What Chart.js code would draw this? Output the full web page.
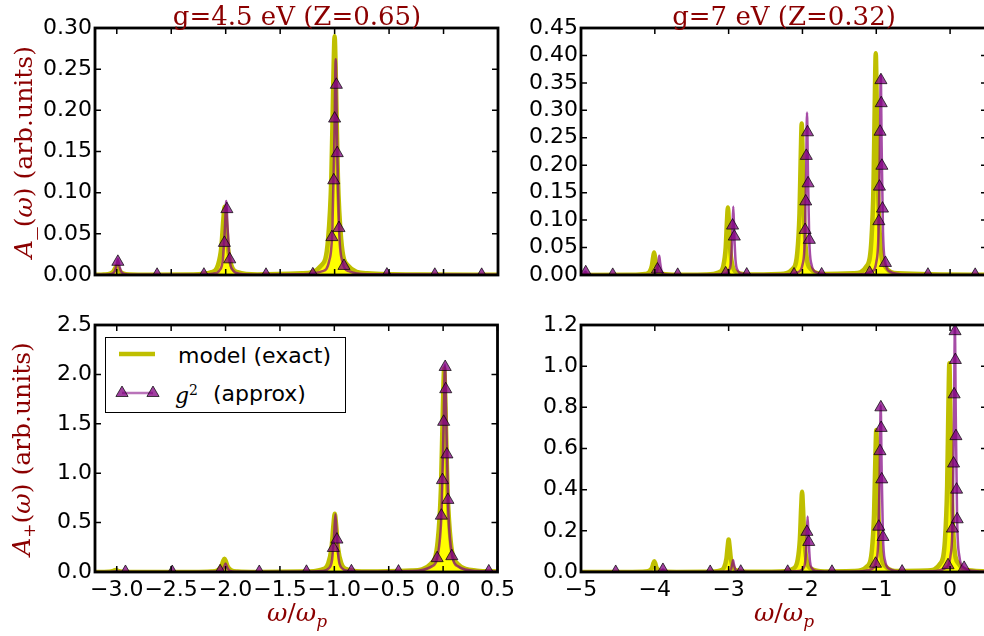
<!DOCTYPE html>
<html>
<head>
<meta charset="utf-8">
<script src="https://cdn.jsdelivr.net/npm/chart.js@4.4.1/dist/chart.umd.min.js"></script>
<style>
    html, body { margin: 0; padding: 0; width: 984px; height: 636px; overflow: hidden; background: #fff; }
    canvas { position: absolute; }
    .title, .xlabel, .ylabel { position: absolute; font-family: "DejaVu Serif", serif; color: #8b0000; line-height: 1; white-space: nowrap; }
    .title { font-size: 26px; top: 3px; transform: translateX(-50%); }
    .xlabel { font-size: 25px; top: 600px; transform: translateX(-50%); }
    .ylabel { font-size: 25px; transform: translate(-50%, -50%) rotate(-90deg); }
    .ylabel sub { font-size: 17px; vertical-align: -5px; }
    .xlabel sub { font-size: 17px; vertical-align: -6px; }
    #legend { position: absolute; left: 105px; top: 337px; width: 241px; height: 76px; box-sizing: border-box; border: 1px solid #000; background: #fff; }
    #legend svg { position: absolute; left: -1px; top: -1px; }
    .leg { position: absolute; font: 22px "DejaVu Sans", sans-serif; line-height: 1; white-space: nowrap; color: #000; }
</style>
</head>
<body>
<canvas id="tl"></canvas>
<canvas id="tr"></canvas>
<canvas id="bl"></canvas>
<canvas id="br"></canvas>

<div class="title" style="left:297px">g=4.5 eV (Z=0.65)</div>
<div class="title" style="left:784px">g=7 eV (Z=0.32)</div>
<div class="ylabel" style="left:23px; top:152px"><i>A</i>_(<i>ω</i>) (arb.units)</div>
<div class="ylabel" style="left:23px; top:449px"><i>A</i><sub>+</sub>(<i>ω</i>) (arb.units)</div>
<div class="xlabel" style="left:297px"><i>ω</i>/<i>ω</i><sub><i>p</i></sub></div>
<div class="xlabel" style="left:784px"><i>ω</i>/<i>ω</i><sub><i>p</i></sub></div>

<div id="legend">
    <svg width="241" height="76">
        <line x1="14" y1="17" x2="50" y2="17" stroke="#bfbf00" stroke-width="4.5"/>
        <line x1="17" y1="56" x2="48" y2="56" stroke="rgba(128,0,128,0.55)" stroke-width="2.5"/>
        <polygon points="17,49 23.1,59.5 10.9,59.5" fill="rgba(128,0,128,0.75)" stroke="rgba(0,0,0,0.7)" stroke-width="1"/>
        <polygon points="48,49 54.1,59.5 41.9,59.5" fill="rgba(128,0,128,0.75)" stroke="rgba(0,0,0,0.7)" stroke-width="1"/>
    </svg>
    <div class="leg" style="left:72px; top:7px">model (exact)</div>
    <div class="leg" style="left:69px; top:45px"><i style="font-family:'DejaVu Serif',serif">g</i><sup style="font-size:14px; font-family:'DejaVu Serif',serif">2</sup></div>
    <div class="leg" style="left:107px; top:45px">(approx)</div>
</div>

<script>
// Tick values
const xTicksLeft = [-3.0, -2.5, -2.0, -1.5, -1.0, -0.5, 0.0, 0.5];
const xTicksRight = [-5, -4, -3, -2, -1, 0];
const yTicksTL = [0, 0.05, 0.10, 0.15, 0.20, 0.25, 0.30];
const yTicksTR = [0, 0.05, 0.10, 0.15, 0.20, 0.25, 0.30, 0.35, 0.40, 0.45];
const yTicksBL = [0, 0.5, 1.0, 1.5, 2.0, 2.5];
const yTicksBR = [0, 0.2, 0.4, 0.6, 0.8, 1.0, 1.2];

// A_(w), g=4.5 eV : model (exact), g^2 (approx) curve, g^2 markers
const exactTL = [
    [-3.2, 0.0002], [-3.12, 0.0005], [-3.06, 0.0017], [-3.03, 0.0045], [-3.012, 0.0089], [-3.0, 0.011],
    [-2.988, 0.0089], [-2.97, 0.0045], [-2.94, 0.0017], [-2.88, 0.0005], [-2.7, 0.0002],
    [-2.31, 0.0006], [-2.13, 0.0035], [-2.07, 0.0125], [-2.04, 0.034], [-2.022, 0.067], [-2.01, 0.083],
    [-1.998, 0.067], [-1.98, 0.034], [-1.95, 0.0125], [-1.89, 0.0035], [-1.71, 0.0006],
    [-1.3, 0.002], [-1.12, 0.012], [-1.06, 0.0435], [-1.03, 0.119], [-1.012, 0.235], [-1.0, 0.29],
    [-0.988, 0.235], [-0.97, 0.119], [-0.94, 0.0435], [-0.88, 0.012], [-0.7, 0.002], [-0.2, 0.0005], [0.5, 0.0002]
];
const approxTL = [
    [-3.2, 0.0002], [-3.11, 0.0003], [-3.05, 0.0013], [-3.02, 0.0042], [-3.002, 0.012], [-2.99, 0.019],
    [-2.978, 0.012], [-2.96, 0.0042], [-2.93, 0.0013], [-2.87, 0.0003],
    [-2.295, 0.0003], [-2.115, 0.0016], [-2.055, 0.006], [-2.025, 0.02], [-2.007, 0.058], [-1.995, 0.09],
    [-1.983, 0.058], [-1.965, 0.02], [-1.935, 0.006], [-1.875, 0.0016], [-1.695, 0.0003],
    [-1.29, 0.0008], [-1.11, 0.0047], [-1.05, 0.017], [-1.02, 0.058], [-1.002, 0.168], [-0.99, 0.262],
    [-0.978, 0.168], [-0.96, 0.058], [-0.93, 0.017], [-0.87, 0.0047], [-0.69, 0.0008], [0.5, 0.0002]
];
const marksTL = [
    [-2.99, 0.016], [-2.63, 0.0003], [-2.2, 0.0004], [-2.012, 0.039], [-1.989, 0.08], [-1.963, 0.019],
    [-1.63, 0.0003], [-1.2, 0.0008], [-1.025, 0.046], [-1.008, 0.115], [-1.0, 0.19], [-0.984, 0.231],
    [-0.976, 0.148], [-0.96, 0.057], [-0.914, 0.011], [-0.52, 0.0005], [-0.08, 0.0003], [0.35, 0.0002]
];

// A_(w), g=7 eV
const exactTR = [
    [-5.0, 0.0002], [-4.31, 0.0003], [-4.13, 0.0017], [-4.07, 0.006], [-4.04, 0.017], [-4.022, 0.033], [-4.01, 0.041],
    [-3.998, 0.033], [-3.98, 0.017], [-3.95, 0.006], [-3.89, 0.0017], [-3.71, 0.0003],
    [-3.31, 0.0009], [-3.13, 0.005], [-3.07, 0.018], [-3.04, 0.05], [-3.022, 0.1], [-3.01, 0.123],
    [-2.998, 0.1], [-2.98, 0.05], [-2.95, 0.018], [-2.89, 0.005], [-2.71, 0.0009],
    [-2.31, 0.002], [-2.13, 0.0115], [-2.07, 0.041], [-2.04, 0.113], [-2.022, 0.224], [-2.01, 0.276],
    [-1.998, 0.224], [-1.98, 0.113], [-1.95, 0.041], [-1.89, 0.0115], [-1.71, 0.002],
    [-1.307, 0.003], [-1.127, 0.017], [-1.067, 0.061], [-1.037, 0.166], [-1.019, 0.327], [-1.007, 0.404],
    [-0.995, 0.327], [-0.977, 0.166], [-0.947, 0.061], [-0.887, 0.017], [-0.707, 0.003], [0.5, 0.0003]
];
const approxTR = [
    [-5.0, 0.0004], [-4.97, 0.0013], [-4.952, 0.0038], [-4.94, 0.006], [-4.928, 0.0038], [-4.91, 0.0013],
    [-4.88, 0.0004], [-4.82, 0.0001],
    [-4.24, 0.0001], [-4.06, 0.0006], [-4.0, 0.0023], [-3.97, 0.0077], [-3.952, 0.022], [-3.94, 0.035],
    [-3.928, 0.022], [-3.91, 0.0077], [-3.88, 0.0023], [-3.82, 0.0006], [-3.64, 0.0001],
    [-3.237, 0.0004], [-3.057, 0.0023], [-2.997, 0.0083], [-2.967, 0.0275], [-2.949, 0.08], [-2.937, 0.125],
    [-2.925, 0.08], [-2.907, 0.0275], [-2.877, 0.0083], [-2.817, 0.0023], [-2.637, 0.0004],
    [-2.238, 0.0009], [-2.058, 0.0053], [-1.998, 0.0195], [-1.968, 0.065], [-1.95, 0.19], [-1.938, 0.296],
    [-1.926, 0.19], [-1.908, 0.065], [-1.878, 0.0195], [-1.818, 0.0053], [-1.638, 0.0009],
    [-1.239, 0.0011], [-1.059, 0.0066], [-0.999, 0.024], [-0.969, 0.08], [-0.951, 0.233], [-0.939, 0.364],
    [-0.927, 0.233], [-0.909, 0.08], [-0.879, 0.024], [-0.819, 0.0066], [-0.639, 0.0011], [0.5, 0.0002]
];
const marksTR = [
    [-4.936, 0.005], [-4.57, 0.0002], [-3.965, 0.01], [-3.69, 0.0003], [-3.04, 0.003], [-2.947, 0.09],
    [-2.923, 0.07], [-2.755, 0.0008], [-2.114, 0.001], [-1.964, 0.082], [-1.956, 0.134], [-1.948, 0.217],
    [-1.932, 0.26], [-1.924, 0.167], [-1.907, 0.064], [-1.74, 0.001], [-1.09, 0.004], [-0.965, 0.098],
    [-0.957, 0.161], [-0.949, 0.261], [-0.937, 0.355], [-0.933, 0.313], [-0.924, 0.199], [-0.916, 0.121],
    [-0.876, 0.022], [-0.30, 0.0006], [0.34, 0.0003]
];

// A+(w), g=4.5 eV
const exactBL = [
    [-3.2, 0.0003], [-3.13, 0.0008], [-3.07, 0.003], [-3.04, 0.008], [-3.022, 0.016], [-3.01, 0.02],
    [-2.998, 0.016], [-2.98, 0.008], [-2.95, 0.003], [-2.89, 0.0008], [-2.71, 0.0003],
    [-2.31, 0.001], [-2.13, 0.0057], [-2.07, 0.02], [-2.04, 0.055], [-2.022, 0.109], [-2.01, 0.135],
    [-1.998, 0.109], [-1.98, 0.055], [-1.95, 0.02], [-1.89, 0.0057], [-1.71, 0.001],
    [-1.296, 0.004], [-1.116, 0.025], [-1.056, 0.089], [-1.026, 0.242], [-1.008, 0.478], [-0.996, 0.59],
    [-0.984, 0.478], [-0.966, 0.242], [-0.936, 0.089], [-0.876, 0.025], [-0.696, 0.004],
    [-0.29, 0.014], [-0.11, 0.087], [-0.05, 0.31], [-0.02, 0.845], [-0.002, 1.67], [0.01, 2.06],
    [0.022, 1.67], [0.04, 0.845], [0.07, 0.31], [0.13, 0.087], [0.31, 0.014], [0.5, 0.005]
];
const approxBL = [
    [-3.2, 0.0003], [-3.06, 0.0005], [-3.03, 0.0018], [-3.012, 0.005], [-3.0, 0.008], [-2.988, 0.005],
    [-2.97, 0.0018], [-2.94, 0.0005], [-2.88, 0.0002],
    [-2.3, 0.0003], [-2.12, 0.0015], [-2.06, 0.0056], [-2.03, 0.0187], [-2.012, 0.054], [-2.0, 0.085],
    [-1.988, 0.054], [-1.97, 0.0187], [-1.94, 0.0056], [-1.88, 0.0015], [-1.7, 0.0003],
    [-1.29, 0.0018], [-1.11, 0.0105], [-1.05, 0.0386], [-1.02, 0.129], [-1.002, 0.374], [-0.99, 0.585],
    [-0.978, 0.374], [-0.96, 0.129], [-0.93, 0.0386], [-0.87, 0.0105], [-0.69, 0.0018],
    [-0.283, 0.009], [-0.103, 0.057], [-0.043, 0.21], [-0.013, 0.65], [0.005, 1.54], [0.017, 2.1],
    [0.029, 1.54], [0.047, 0.65], [0.077, 0.21], [0.137, 0.057], [0.317, 0.009], [0.5, 0.004]
];
const marksBL = [
    [-2.92, 0.0003], [-2.49, 0.0003], [-2.05, 0.008], [-1.69, 0.0003], [-1.256, 0.002], [-1.009, 0.243],
    [-0.976, 0.328], [-0.843, 0.007], [-0.41, 0.004], [-0.055, 0.14], [-0.016, 0.57], [-0.006, 0.93],
    [0.005, 1.52], [0.019, 2.075], [0.024, 1.85], [0.035, 1.19], [0.044, 0.73], [0.08, 0.16], [0.42, 0.006]
];

// A+(w), g=7 eV
const exactBR = [
    [-5.0, 0.0003], [-4.307, 0.0004], [-4.127, 0.0022], [-4.067, 0.0078], [-4.037, 0.021], [-4.019, 0.042], [-4.007, 0.052],
    [-3.995, 0.042], [-3.977, 0.021], [-3.947, 0.0078], [-3.887, 0.0022], [-3.707, 0.0004],
    [-3.3, 0.0011], [-3.12, 0.0066], [-3.06, 0.024], [-3.03, 0.065], [-3.012, 0.128], [-3.0, 0.158],
    [-2.988, 0.128], [-2.97, 0.065], [-2.94, 0.024], [-2.88, 0.0066], [-2.7, 0.0011],
    [-2.305, 0.0027], [-2.125, 0.016], [-2.065, 0.0585], [-2.035, 0.16], [-2.017, 0.316], [-2.005, 0.39],
    [-1.993, 0.316], [-1.975, 0.16], [-1.945, 0.0585], [-1.885, 0.016], [-1.705, 0.0027],
    [-1.3, 0.0048], [-1.12, 0.029], [-1.06, 0.1035], [-1.03, 0.283], [-1.012, 0.559], [-1.0, 0.69],
    [-0.988, 0.559], [-0.97, 0.283], [-0.94, 0.1035], [-0.88, 0.029], [-0.7, 0.0048],
    [-0.31, 0.0071], [-0.13, 0.0426], [-0.07, 0.152], [-0.04, 0.416], [-0.022, 0.821], [-0.01, 1.014],
    [0.002, 0.821], [0.02, 0.416], [0.05, 0.152], [0.11, 0.0426], [0.29, 0.0071], [0.5, 0.003]
];
const approxBR = [
    [-5.0, 0.0002], [-4.19, 0.0001], [-4.01, 0.0002], [-3.95, 0.0008], [-3.92, 0.0026], [-3.902, 0.0077],
    [-3.89, 0.012], [-3.878, 0.0077], [-3.86, 0.0026], [-3.83, 0.0008], [-3.77, 0.0002],
    [-3.24, 0.0002], [-3.06, 0.001], [-3.0, 0.0038], [-2.97, 0.0125], [-2.952, 0.0365], [-2.94, 0.057],
    [-2.928, 0.0365], [-2.91, 0.0125], [-2.88, 0.0038], [-2.82, 0.001], [-2.64, 0.0002],
    [-2.23, 0.0008], [-2.05, 0.0049], [-1.99, 0.0178], [-1.96, 0.059], [-1.942, 0.173], [-1.93, 0.27],
    [-1.918, 0.173], [-1.9, 0.059], [-1.87, 0.0178], [-1.81, 0.0049], [-1.63, 0.0008],
    [-1.24, 0.0024], [-1.06, 0.0146], [-1.0, 0.053], [-0.97, 0.178], [-0.952, 0.518], [-0.94, 0.81],
    [-0.928, 0.518], [-0.91, 0.178], [-0.88, 0.053], [-0.82, 0.0146], [-0.64, 0.0024],
    [-0.235, 0.0036], [-0.055, 0.0214], [0.005, 0.0785], [0.035, 0.262], [0.053, 0.762], [0.065, 1.19],
    [0.077, 0.762], [0.095, 0.262], [0.125, 0.0785], [0.185, 0.0214], [0.365, 0.0036], [0.5, 0.002]
];
const marksBR = [
    [-4.53, 0.0002], [-3.89, 0.01], [-3.25, 0.0003], [-2.836, 0.0015], [-2.2, 0.001], [-1.94, 0.195],
    [-1.915, 0.146], [-1.6, 0.001], [-1.01, 0.04], [-0.966, 0.22], [-0.95, 0.587], [-0.938, 0.80],
    [-0.934, 0.70], [-0.926, 0.45], [-0.909, 0.17], [-0.65, 0.002], [-0.028, 0.033], [0.031, 0.211],
    [0.047, 0.527], [0.055, 0.863], [0.067, 1.17], [0.071, 1.03], [0.079, 0.66], [0.088, 0.40],
    [0.096, 0.256], [0.19, 0.02]
];

// space around each plot area inside its canvas
const PAD_L = 95, PAD_T = 28, PAD_R = 22, PAD_B = 45;

const fmt = (v, d) => v.toFixed(d).replace('-', '\u2212');
const toXY = pts => pts.map(p => ({ x: p[0], y: p[1] }));

// black frame with inward ticks on all four sides
const framePlugin = {
    id: 'frame',
    afterDatasetsDraw(chart) {
        const { ctx, chartArea: a, scales: { x, y } } = chart;
        ctx.save();
        ctx.strokeStyle = '#000';
        ctx.lineWidth = 1.5;
        ctx.beginPath();
        x.ticks.forEach(t => {
            const px = x.getPixelForValue(t.value);
            ctx.moveTo(px, a.bottom); ctx.lineTo(px, a.bottom - 6);
            ctx.moveTo(px, a.top); ctx.lineTo(px, a.top + 6);
        });
        y.ticks.forEach(t => {
            const py = y.getPixelForValue(t.value);
            ctx.moveTo(a.left, py); ctx.lineTo(a.left + 6, py);
            ctx.moveTo(a.right, py); ctx.lineTo(a.right - 6, py);
        });
        ctx.stroke();
        ctx.lineWidth = 2.8;
        ctx.strokeRect(a.left, a.top, a.right - a.left, a.bottom - a.top);
        ctx.restore();
    }
};

function makePanel(id, box, exact, approx, marks, xRange, yMax, xTicks, yTicks, xDec, yDec, showX) {
    const canvas = document.getElementById(id);
    const w = box.right - box.left + PAD_L + PAD_R;
    const h = box.bottom - box.top + PAD_T + PAD_B;
    canvas.width = w;
    canvas.height = h;
    canvas.style.width = w + 'px';
    canvas.style.height = h + 'px';
    canvas.style.left = (box.left - PAD_L) + 'px';
    canvas.style.top = (box.top - PAD_T) + 'px';

    new Chart(canvas, {
        type: 'line',
        data: {
            datasets: [
                {
                    data: toXY(marks), showLine: false, pointStyle: 'triangle', pointRadius: 7,
                    pointBackgroundColor: 'rgba(128,0,128,0.75)', pointBorderColor: 'rgba(0,0,0,0.7)',
                    pointBorderWidth: 1, clip: 0, order: 1
                },
                {
                    data: toXY(approx), borderColor: 'rgba(128,0,128,0.7)', borderWidth: 2.5, pointRadius: 0,
                    cubicInterpolationMode: 'monotone', fill: false, clip: 0, order: 2
                },
                {
                    data: toXY(exact), borderColor: '#bfbf00', borderWidth: 4.5, backgroundColor: '#ffff00',
                    fill: 'origin', pointRadius: 0, cubicInterpolationMode: 'monotone', clip: 0, order: 3
                }
            ]
        },
        options: {
            responsive: false,
            animation: false,
            devicePixelRatio: 1,
            layout: { padding: { top: PAD_T, right: PAD_R, left: 0, bottom: 0 } },
            plugins: { legend: { display: false }, tooltip: { enabled: false } },
            scales: {
                x: {
                    type: 'linear', min: xRange[0], max: xRange[1],
                    grid: { display: false, drawTicks: false }, border: { display: false },
                    ticks: {
                        display: showX, autoSkip: false, maxRotation: 0, minRotation: 0, padding: 5,
                        color: '#000', font: { family: 'DejaVu Sans', size: 22 }, callback: v => fmt(v, xDec)
                    },
                    afterBuildTicks: s => { s.ticks = xTicks.map(v => ({ value: v })); },
                    afterFit: s => { s.height = PAD_B; }
                },
                y: {
                    type: 'linear', min: 0, max: yMax,
                    grid: { display: false, drawTicks: false }, border: { display: false },
                    ticks: {
                        autoSkip: false, padding: 3, color: '#000',
                        font: { family: 'DejaVu Sans', size: 22 }, callback: v => fmt(v, yDec)
                    },
                    afterBuildTicks: s => { s.ticks = yTicks.map(v => ({ value: v })); },
                    afterFit: s => { s.width = PAD_L; }
                }
            }
        },
        plugins: [framePlugin]
    });
}

document.addEventListener('DOMContentLoaded', function() {
    makePanel('tl', { left: 95, top: 28, right: 498, bottom: 275 }, exactTL, approxTL, marksTL,
        [-3.2, 0.5], 0.30, xTicksLeft, yTicksTL, 1, 2, false);
    makePanel('tr', { left: 581, top: 28, right: 987, bottom: 275 }, exactTR, approxTR, marksTR,
        [-5, 0.5], 0.45, xTicksRight, yTicksTR, 0, 2, false);
    makePanel('bl', { left: 95, top: 325, right: 498, bottom: 572 }, exactBL, approxBL, marksBL,
        [-3.2, 0.5], 2.5, xTicksLeft, yTicksBL, 1, 1, true);
    makePanel('br', { left: 581, top: 325, right: 987, bottom: 572 }, exactBR, approxBR, marksBR,
        [-5, 0.5], 1.2, xTicksRight, yTicksBR, 0, 1, true);
});
</script>
</body>
</html>
